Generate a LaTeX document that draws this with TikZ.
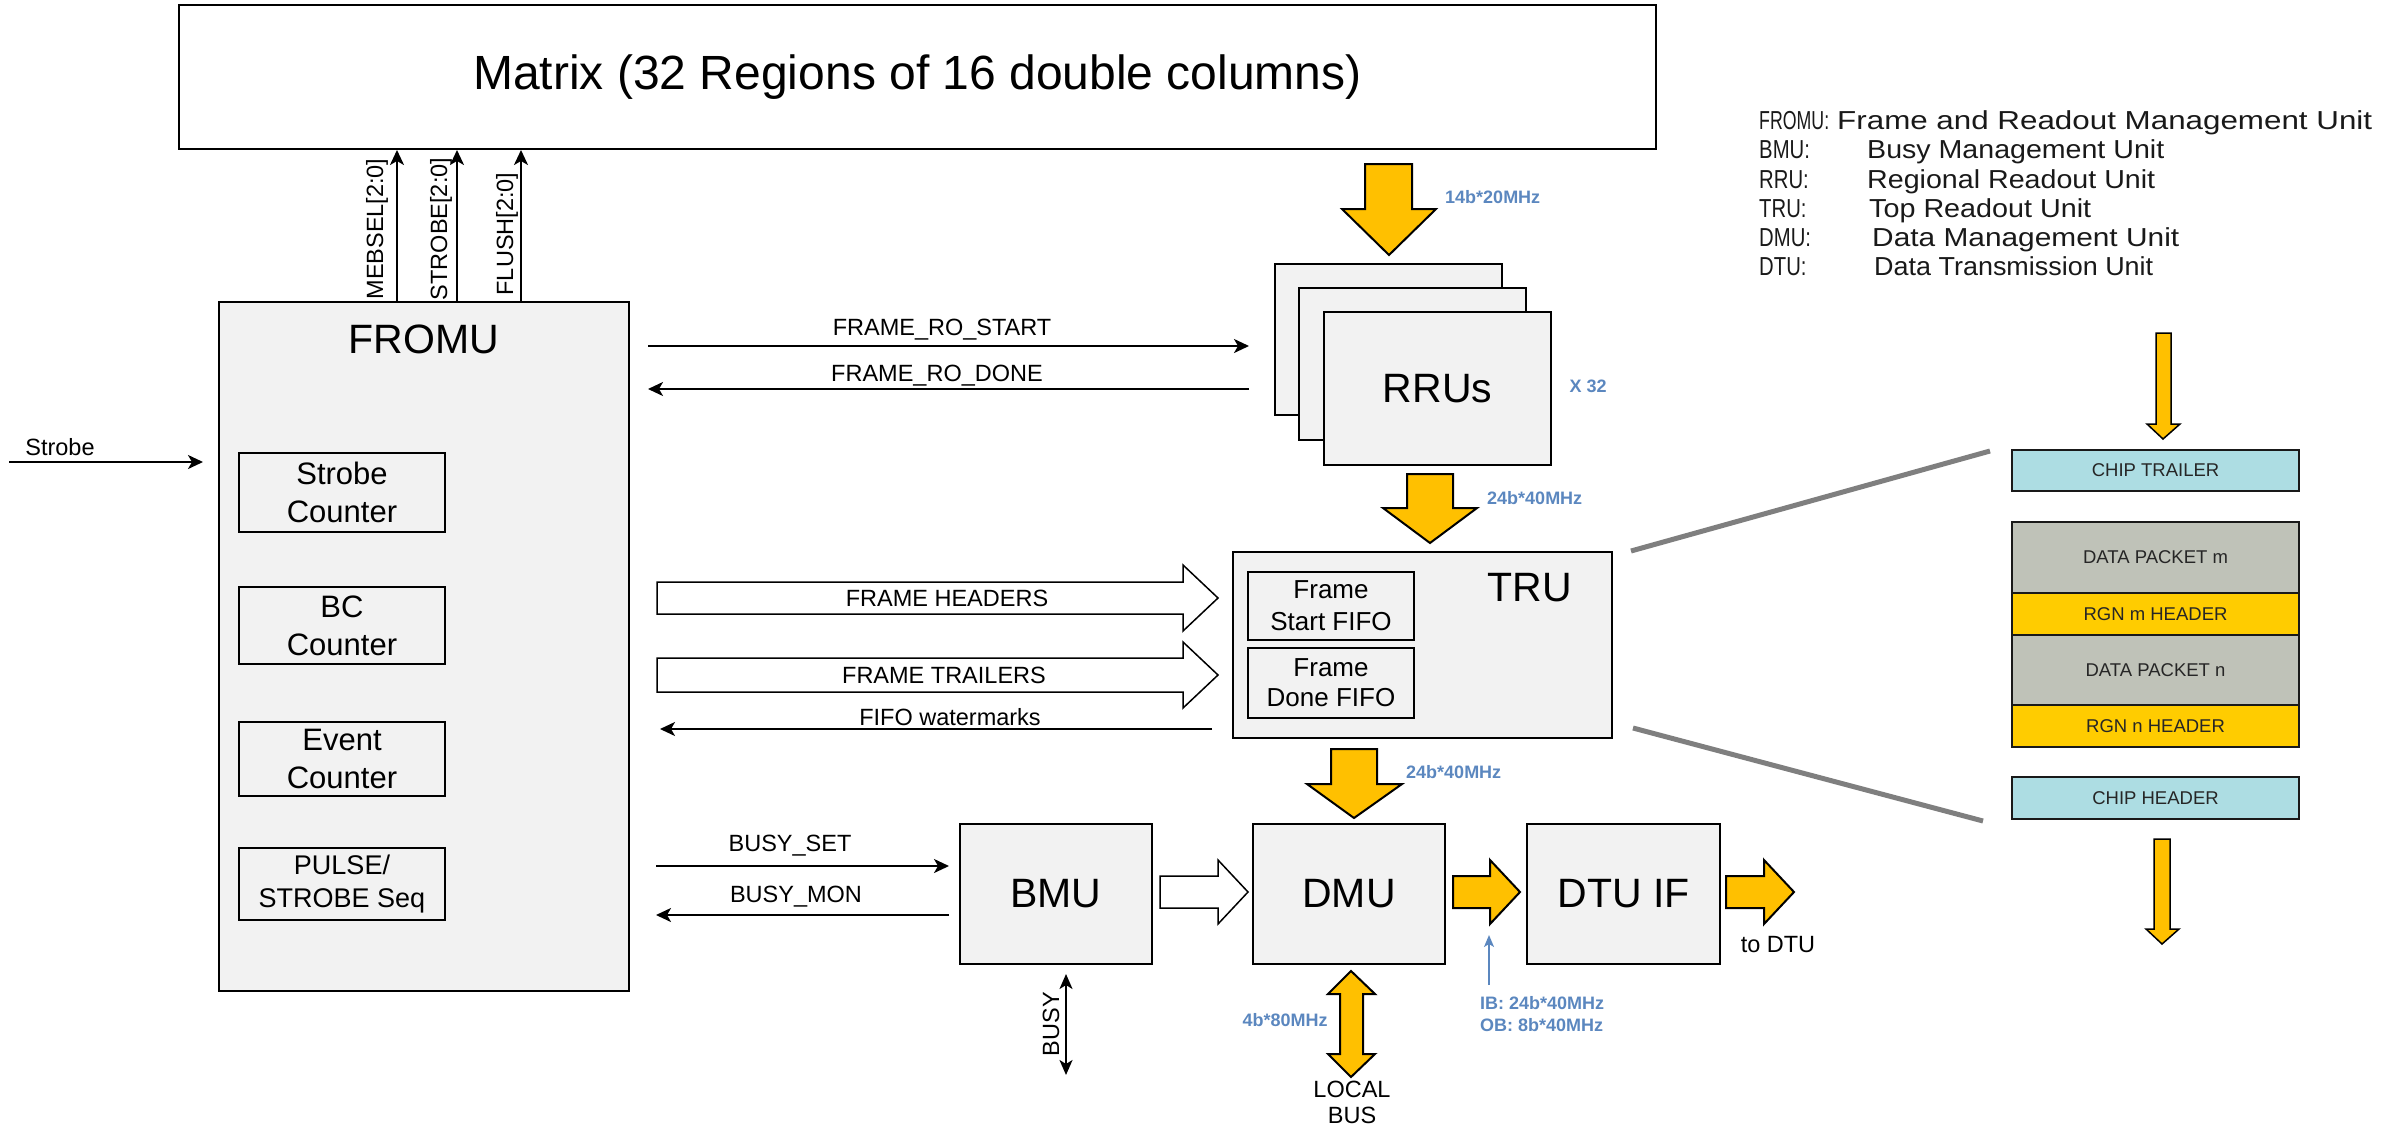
\documentclass[tikz,border=0pt]{standalone}
\usepackage{fontspec}
\setmainfont{Liberation Sans}
\usepackage{graphicx}
\usetikzlibrary{arrows.meta}
\definecolor{boxgray}{HTML}{F2F2F2}
\definecolor{gold}{HTML}{FFC000}
\definecolor{blueone}{HTML}{5B87BF}
\definecolor{chipcyan}{HTML}{ADDDE3}
\definecolor{pktgray}{HTML}{BFC2B8}
\definecolor{rgngold}{HTML}{FFCC00}
\definecolor{linegray}{HTML}{7F7F7F}
\newcommand\fsz[2]{\fontsize{#1}{#2}\selectfont}
\newcommand\fitw[2]{\resizebox{#1}{\height}{#2}}
\newcommand\narr[1]{\scalebox{0.78}[1]{#1}}
\begin{document}
\begin{tikzpicture}[x=1pt,y=-1pt,
  box/.style={draw=black,line width=2pt,fill=boxgray,rectangle,inner sep=0pt,align=center},
  sig/.style={line width=2pt,-{Stealth[length=15pt,width=14pt,inset=4pt]}},
  lab/.style={inner sep=0pt,font=\fsz{23.5}{28}},
  blab/.style={inner sep=0pt,text=blueone,font=\bfseries\fsz{18}{22}},
  yarr/.style={draw=black,line width=2pt,fill=gold,line join=miter},
  warr/.style={draw=black,line width=1.5pt,fill=white,line join=miter},
  thinarr/.style={draw=black,line width=1.5pt,fill=gold,line join=miter},
  stackbox/.style={draw=black!90,line width=2.5pt,rectangle,inner sep=0pt,minimum width=287pt,text=black!85,font=\fsz{18.5}{22}},
  grayline/.style={line width=5pt,draw=linegray},
  legend/.style={anchor=base west,inner sep=0pt,font=\fsz{26}{30},text=black!90},
]
\useasboundingbox (0,0) rectangle (2405,1133);

% Matrix
\node[box,fill=white,minimum width=1477pt,minimum height=144pt,font=\fsz{48}{56}] (mtx) at (917.5,77) {Matrix (32 Regions of 16 double columns)};

% FROMU
\node[box,minimum width=410pt,minimum height=689pt] (fromu) at (424,646.5) {};
\node[inner sep=0pt,font=\fsz{41}{48}] (fromut) at (424,339) {FROMU};
\node[box,minimum width=206pt,minimum height=79pt,font=\fsz{31}{38}] (strobec) at (342,492.5) {Strobe\\Counter};
\node[box,minimum width=206pt,minimum height=77pt,font=\fsz{31}{38}] (bcc) at (342,625.5) {BC\\Counter};
\node[box,minimum width=206pt,minimum height=74pt,font=\fsz{31}{38}] (eventc) at (342,759) {Event\\Counter};
\node[box,minimum width=206pt,minimum height=72pt,font=\fsz{27}{33}] (pulse) at (342,884) {PULSE/\\STROBE Seq};

% Strobe input
\coordinate (sin) at (9,462);
\draw[sig,shorten >=15pt] (sin) -- (fromu.west |- sin);
\node[lab] (strobel) at (60,447) {Strobe};

% vertical signals to matrix
\coordinate (c1) at (397,0);
\coordinate (c2) at (457,0);
\coordinate (c3) at (521,0);
\draw[sig] (fromu.north -| c1) -- (mtx.south -| c1);
\draw[sig] (fromu.north -| c2) -- (mtx.south -| c2);
\draw[sig] (fromu.north -| c3) -- (mtx.south -| c3);
\node[lab,rotate=90] (mebsel) at (377,229) {MEBSEL[2:0]};
\node[lab,rotate=90] (strobes) at (441,229) {STROBE[2:0]};
\node[lab,rotate=90] (flush) at (507,234) {FLUSH[2:0]};

% RRUs
\node[box,minimum width=227pt,minimum height=151pt] (rru1) at (1388.5,339.5) {};
\node[box,minimum width=227pt,minimum height=152pt] (rru2) at (1412.5,364) {};
\node[box,minimum width=227pt,minimum height=153pt,font=\fsz{41}{48}] (rru3) at (1437.5,388.5) {RRUs};
\node[blab] (x32) at (1588,386) {X 32};

\draw[yarr] (1365,164) -- (1412,164) -- (1412,209) -- (1436,209) -- (1389,255) -- (1342,209) -- (1365,209) -- cycle;
\node[blab,anchor=west] (f14) at (1445,197) {14b*20MHz};

\draw[sig,shorten <=18pt,shorten >=25pt] (fromu.east |- 0,346) -- (rru1.west |- 0,346);
\node[lab] (frs) at (942,330) {FRAME\_RO\_START};
\draw[sig,shorten <=25pt,shorten >=18pt] (rru1.west |- 0,389) -- (fromu.east |- 0,389);
\node[lab] (frd) at (937,376) {FRAME\_RO\_DONE};

% TRU
\draw[yarr] (1407,474) -- (1453,474) -- (1453,508) -- (1477,508) -- (1430,543) -- (1383,508) -- (1407,508) -- cycle;
\node[blab,anchor=west] (f24a) at (1487,498) {24b*40MHz};
\node[box,minimum width=379pt,minimum height=186pt] (tru) at (1422.5,645) {};
\node[inner sep=0pt,font=\fsz{41}{48}] (trut) at (1530,588) {TRU};
\node[box,minimum width=166pt,minimum height=68pt,font=\fsz{26}{32}] (fstart) at (1331,606) {Frame\\Start FIFO};
\node[box,minimum width=166pt,minimum height=70pt,font=\fsz{26}{30}] (fdone) at (1331,683) {Frame\\Done FIFO};

% frame headers / trailers
\draw[warr] (657,582) -- (1183,582) -- (1183,565) -- (1218,598) -- (1183,631) -- (1183,614) -- (657,614) -- cycle;
\node[lab] (fh) at (947,598) {FRAME HEADERS};
\draw[warr] (657,658) -- (1183,658) -- (1183,642) -- (1218,675) -- (1183,708) -- (1183,692) -- (657,692) -- cycle;
\node[lab] (ft) at (944,675) {FRAME TRAILERS};
\draw[sig,shorten <=20pt,shorten >=30pt] (tru.west |- 0,729) -- (fromu.east |- 0,729);
\node[lab] (fw) at (950,717) {FIFO watermarks};

% TRU -> DMU
\draw[yarr] (1331,749) -- (1377,749) -- (1377,784) -- (1402,784) -- (1354,818) -- (1307,784) -- (1331,784) -- cycle;
\node[blab,anchor=west] (f24b) at (1406,772) {24b*40MHz};

% BMU, DMU, DTU IF
\node[box,minimum width=192pt,minimum height=140pt,font=\fsz{41}{48}] (bmu) at (1056,894) {BMU};
\node[box,minimum width=192pt,minimum height=140pt,font=\fsz{41}{48}] (dmu) at (1349,894) {DMU};
\node[box,minimum width=193pt,minimum height=140pt,font=\fsz{41}{48}] (dtuif) at (1623.5,894) {DTU IF};

\draw[sig,shorten <=26pt,shorten >=10pt] (fromu.east |- 0,866) -- (bmu.west |- 0,866);
\node[lab] (bset) at (790,846) {BUSY\_SET};
\draw[sig,shorten <=10pt,shorten >=26pt] (bmu.west |- 0,915) -- (fromu.east |- 0,915);
\node[lab] (bmon) at (796,897) {BUSY\_MON};

\draw[warr] (1160,876) -- (1218,876) -- (1218,860) -- (1248,892) -- (1218,924) -- (1218,908) -- (1160,908) -- cycle;
\draw[yarr] (1453,876) -- (1490,876) -- (1490,860) -- (1520,892) -- (1490,924) -- (1490,908) -- (1453,908) -- cycle;
\draw[yarr] (1726,876) -- (1764,876) -- (1764,860) -- (1794,892) -- (1764,924) -- (1764,908) -- (1726,908) -- cycle;
\node[lab] (todtu) at (1778,945) {to DTU};

% BUSY
\draw[line width=2pt,{Stealth[length=15pt,width=13pt,inset=4pt]}-{Stealth[length=15pt,width=13pt,inset=4pt]}] (bmu.south -| 1066,0) ++(0,9) -- (1066,1075);
\node[lab,rotate=90] (busy) at (1051,1024) {BUSY};

% LOCAL BUS
\draw[yarr] (1351,971) -- (1375,994) -- (1363,994) -- (1363,1054) -- (1375,1054) -- (1351,1077) -- (1328,1054) -- (1340,1054) -- (1340,994) -- (1328,994) -- cycle;
\node[blab] (f4b) at (1285,1020) {4b*80MHz};
\node[lab] (lbus) at (1352,1105) {\begin{tabular}{@{}c@{}}LOCAL\\[-2pt]BUS\end{tabular}};

% IB/OB
\coordinate (ibb) at (1489,985);
\draw[line width=1.5pt,blueone,-{Stealth[length=12pt,width=10pt,inset=3pt]}] (ibb) -- (1489,935);
\node[blab,anchor=west] (ib) at (1480,1003) {IB: 24b*40MHz};
\node[blab,anchor=west] (ob) at (1480,1025) {OB: 8b*40MHz};

% Right stack
\node[stackbox,fill=chipcyan,minimum height=41pt] (chiptr) at (2155.5,470.5) {CHIP TRAILER};
\node[stackbox,fill=pktgray,minimum height=71pt] (pktm) at (2155.5,557.5) {DATA PACKET m};
\node[stackbox,fill=rgngold,minimum height=42pt] (rgnm) at (2155.5,614) {RGN m HEADER};
\node[stackbox,fill=pktgray,minimum height=70pt] (pktn) at (2155.5,670) {DATA PACKET n};
\node[stackbox,fill=rgngold,minimum height=42pt] (rgnn) at (2155.5,726) {RGN n HEADER};
\node[stackbox,fill=chipcyan,minimum height=42pt] (chiphd) at (2155.5,798) {CHIP HEADER};

\draw[thinarr] (2156,333) -- (2171,333) -- (2171,424) -- (2180,424) -- (2163,439) -- (2147,424) -- (2156,424) -- cycle;
\draw[thinarr] (2154,839) -- (2170,839) -- (2170,929) -- (2179,929) -- (2162,944) -- (2146,929) -- (2154,929) -- cycle;

\coordinate (g1a) at (1631,551);
\coordinate (g1b) at (1990,451);
\coordinate (g2a) at (1633,728);
\coordinate (g2b) at (1983,821);
\draw[grayline] (g1a) -- (g1b);
\draw[grayline] (g2a) -- (g2b);

% Legend
\node[legend] (l1a) at (1759,129) {\fitw{70pt}{FROMU:}};
\node[legend] (l1b) at (1837,129) {\fitw{535pt}{Frame and Readout Management Unit}};
\node[legend] (l2a) at (1759,158.5) {\narr{BMU:}};
\node[legend] (l2b) at (1867,158.5) {\fitw{297pt}{Busy Management Unit}};
\node[legend] (l3a) at (1759,188) {\narr{RRU:}};
\node[legend] (l3b) at (1867,188) {\fitw{288pt}{Regional Readout Unit}};
\node[legend] (l4a) at (1759,217) {\narr{TRU:}};
\node[legend] (l4b) at (1869,217) {\fitw{222pt}{Top Readout Unit}};
\node[legend] (l5a) at (1759,246.5) {\narr{DMU:}};
\node[legend] (l5b) at (1872,246.5) {\fitw{307pt}{Data Management Unit}};
\node[legend] (l6a) at (1759,275) {\narr{DTU:}};
\node[legend] (l6b) at (1874,275) {\fitw{279pt}{Data Transmission Unit}};
\end{tikzpicture}
\end{document}
